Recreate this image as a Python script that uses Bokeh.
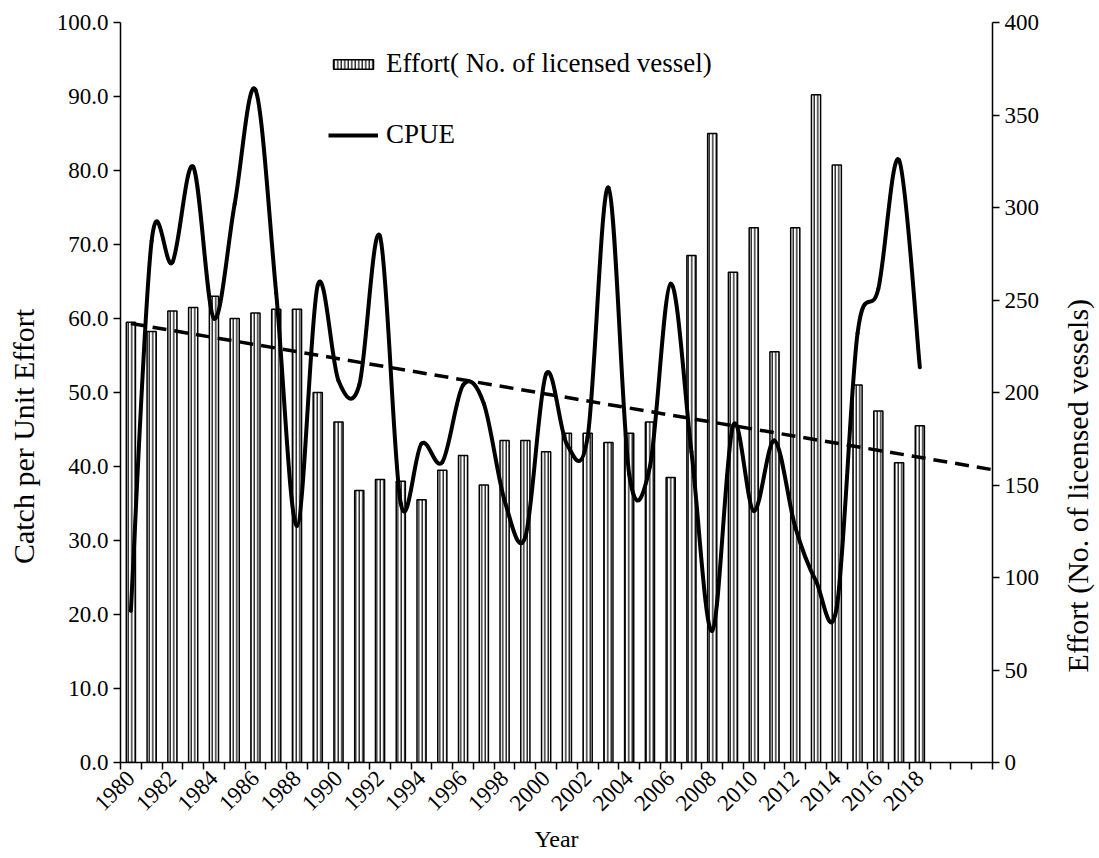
import math
import numpy as np
from bokeh.plotting import figure
from bokeh.layouts import row
from bokeh.core.properties import value
from bokeh.models import (Range1d, LinearAxis, FixedTicker, Legend, LegendItem,
                          NumeralTickFormatter, ColumnDataSource)
from bokeh.embed import file_html
from bokeh.resources import INLINE

# ---------------- data ----------------
years = list(range(1980, 2019))
effort = [238, 233, 244, 246, 252, 240, 243, 245, 245, 200, 184,
          147, 153, 152, 142, 158, 166, 150, 174, 174, 168,
          178, 178, 173, 178, 184, 154, 274, 340, 265, 289,
          222, 289, 361, 323, 204, 190, 162, 182]
cpue = [20.5, 70.5, 67.6, 80.5, 60.0, 75.5, 90.9, 63.4, 32.0, 64.5, 51.6,
        51.0, 71.1, 35.0, 43.1, 40.6, 51.0, 48.5, 35.4, 30.5, 52.5,
        43.0, 44.0, 77.7, 39.0, 40.0, 64.7, 42.0, 17.8, 45.5, 34.0,
        43.5, 31.8, 24.5, 21.0, 58.0, 64.0, 81.4, 53.4]
last_axis_year = 2021
left_ticks = [0, 10, 20, 30, 40, 50, 60, 70, 80, 90, 100]
right_ticks = [0, 50, 100, 150, 200, 250, 300, 350, 400]
bar_label = "Effort( No. of licensed vessel)"
line_label = "CPUE"
x_title = "Year"
left_title = "Catch per Unit Effort"
right_title = "Effort (No. of licensed vessels)"

FONT = "Liberation Serif"
n_cat = last_axis_year - years[0] + 1
xc = [y - years[0] + 0.5 for y in years]

W, H = 1099, 858
LEFT_W = 45
RIGHT_W = 49
p = figure(width=W - LEFT_W - RIGHT_W, height=H, x_range=Range1d(0, n_cat),
           y_range=Range1d(0, 100), output_backend="svg", toolbar_location=None,
           min_border_left=120 - LEFT_W, min_border_right=58, min_border_top=22,
           min_border_bottom=96)
p.extra_y_ranges = {"effort": Range1d(0, 400)}
p.outline_line_color = None
p.xgrid.visible = False
p.ygrid.visible = False
p.background_fill_color = "white"

# bars (right axis)
bsrc = ColumnDataSource(dict(x=xc, top=effort))
bars = p.vbar(x="x", top="top", width=0.44, bottom=0, source=bsrc, y_range_name="effort",
              fill_color="white", line_color="black", line_width=1.5,
              hatch_pattern="vertical_line", hatch_scale=3.5, hatch_weight=1.2,
              hatch_color="black")

# smoothed CPUE line via cubic bezier segments (Catmull-Rom style control points)
n = len(cpue)
P = [(xc[i], cpue[i]) for i in range(n)]
def pt(i):
    return P[min(max(i, 0), n - 1)]
x0, y0, x1, y1, cx0, cy0, cx1, cy1 = [], [], [], [], [], [], [], []
for i in range(n - 1):
    a, b = pt(i), pt(i + 1)
    pm, pp = pt(i - 1), pt(i + 2)
    x0.append(a[0]); y0.append(a[1]); x1.append(b[0]); y1.append(b[1])
    cx0.append(a[0] + (b[0] - pm[0]) / 6.0); cy0.append(a[1] + (b[1] - pm[1]) / 6.0)
    cx1.append(b[0] - (pp[0] - a[0]) / 6.0); cy1.append(b[1] - (pp[1] - a[1]) / 6.0)
p.bezier(x0=x0, y0=y0, x1=x1, y1=y1, cx0=cx0, cy0=cy0, cx1=cx1, cy1=cy1,
         line_color="black", line_width=4, line_cap="round")
# legend proxy for the CPUE line (drawn outside the visible range)
proxy = p.line(x=[-10, -9], y=[-10, -10], line_color="black", line_width=4)

# linear trend of CPUE (computed from data)
t = np.array(years, dtype=float) - years[0]
slope, intercept = np.polyfit(t, np.array(cpue), 1)
tx = [0.5, float(n_cat)]
ty = [intercept + slope * (v - 0.5) for v in tx]
p.line(x=tx, y=ty, line_color="black", line_width=3.5, line_dash="14 8")

# x axis
xa = p.xaxis[0]
lab_pos = [y - years[0] + 0.5 for y in years if (y - years[0]) % 2 == 0]
xa.ticker = FixedTicker(ticks=lab_pos, minor_ticks=list(range(0, n_cat + 1)))
xa.major_label_overrides = {v: str(int(years[0] + v - 0.5)) for v in lab_pos}
xa.major_label_orientation = math.pi / 4
xa.major_tick_in = 0
xa.major_tick_out = 0
xa.minor_tick_in = 0
xa.minor_tick_out = 7
xa.minor_tick_line_color = "black"
xa.minor_tick_line_width = 1.5
xa.axis_label = x_title

# left axis
ya = p.yaxis[0]
ya.ticker = FixedTicker(ticks=left_ticks, minor_ticks=[])
ya.formatter = NumeralTickFormatter(format="0.0")

# right axis
ra = LinearAxis(y_range_name="effort")
ra.ticker = FixedTicker(ticks=right_ticks, minor_ticks=[])
p.add_layout(ra, "right")

for ax in [xa, ya, ra]:
    ax.major_label_text_font = FONT
    ax.major_label_text_font_size = "23px"
    ax.major_label_text_color = "black"
    ax.axis_label_text_font = FONT
    ax.axis_label_text_font_style = "normal"
    ax.axis_label_text_color = "black"
    ax.axis_line_color = "black"
    ax.axis_line_width = 1.5
xa.axis_label_text_font_size = "24px"
for ax in [ya, ra]:
    ax.major_tick_in = 0
    ax.major_tick_out = 7
    ax.major_tick_line_color = "black"
    ax.major_tick_line_width = 1.5
    ax.minor_tick_line_color = None

legend = Legend(items=[LegendItem(label=bar_label, renderers=[bars]),
                       LegendItem(label=line_label, renderers=[proxy])],
                location=(208, 612), border_line_color=None, background_fill_alpha=0,
                label_text_font=FONT, label_text_font_size="27px", label_text_color="black",
                glyph_width=50, glyph_height=12, spacing=40, padding=10, label_standoff=8)
p.add_layout(legend)


def title_strip(width, text, y_center, x_frac):
    s = figure(width=width, height=H, x_range=Range1d(0, 1), y_range=Range1d(0, H),
               x_axis_type=None, y_axis_type=None, output_backend="svg",
               toolbar_location=None, min_border=0)
    s.outline_line_color = None
    s.grid.visible = False
    s.text(x=[x_frac], y=[y_center], text=[text], angle=math.pi / 2,
           text_align="center", text_baseline="middle", text_color="black",
           text_font=value(FONT), text_font_size="30px")
    return s


# vertical titles read bottom to top, as in the reference
left_strip = title_strip(LEFT_W, left_title, H - 435 - 45, 0.5)
right_strip = title_strip(RIGHT_W, right_title, H - 492 - 45, 0.55)

layout = row(left_strip, p, right_strip, spacing=0)
open("out.html", "w").write(file_html(layout, INLINE))
